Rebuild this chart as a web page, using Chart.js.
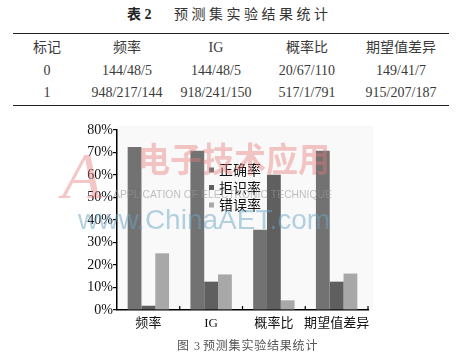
<!DOCTYPE html>
<html>
<head>
    <title>预测集实验结果统计</title>
    <script src="https://cdn.jsdelivr.net/npm/chart.js@4/dist/chart.umd.min.js"></script>
    <style>
        body {
            margin: 0;
            width: 457px;
            height: 358px;
            position: relative;
            background: #fff;
            font-family: "Liberation Serif", "Noto Sans CJK SC", serif;
            color: #333;
            overflow: hidden;
        }
        .t { position: absolute; white-space: pre; font-size: 14px; line-height: 20px; }
        .cell { position: absolute; width: 130px; text-align: center; font-size: 14px; line-height: 20px; color: #3a3a3a; }
        .rule { position: absolute; left: 13px; width: 436px; border-top: 1.5px solid #222; }
        #wrap { position: absolute; left: 0; top: 115px; width: 457px; height: 225px; }
    </style>
</head>
<body>
    <div class="t" style="left:127px;top:5px;font-weight:bold;color:#222;">表 2</div>
    <div class="t" style="left:174px;top:5px;letter-spacing:3.5px;color:#333;">预测集实验结果统计</div>
    <div class="rule" style="top:33px;"></div>
    <div id="table"></div>
    <div class="rule" style="top:105px;"></div>

    <div id="wrap"><canvas id="myChart"></canvas></div>

    <div class="t" style="left:177px;top:336px;font-size:12px;color:#555;letter-spacing:1px;">图 3</div>
    <div class="t" style="left:203px;top:336px;font-size:12px;letter-spacing:0.8px;color:#555;">预测集实验结果统计</div>

    <script>
        // table 2
        var tableHead = ['标记', '频率', 'IG', '概率比', '期望值差异'];
        var tableRow0 = ['0', '144/48/5', '144/48/5', '20/67/110', '149/41/7'];
        var tableRow1 = ['1', '948/217/144', '918/241/150', '517/1/791', '915/207/187'];

        // figure 3
        var categories = ['频率', 'IG', '概率比', '期望值差异'];
        var seriesNames = ['正确率', '拒识率', '错误率'];
        var correctRate = [72.5, 70.8, 35.7, 70.8];
        var rejectRate = [1.9, 12.6, 60.1, 12.6];
        var errorRate = [25.2, 15.8, 4.3, 16.2];
        var yTicks = [0, 10, 20, 30, 40, 50, 60, 70, 80];
        var barColors = ['#727272', '#5f5f5f', '#a8a8a8'];

        var colCenters = [47, 127, 216, 307, 401];
        var rowCenters = [48, 71, 93];
        var tbl = document.getElementById('table');
        [tableHead, tableRow0, tableRow1].forEach(function (row, r) {
            row.forEach(function (txt, c) {
                var d = document.createElement('div');
                d.className = 'cell';
                d.style.left = (colCenters[c] - 65) + 'px';
                d.style.top = (rowCenters[r] - 10) + 'px';
                d.textContent = txt;
                tbl.appendChild(d);
            });
        });

        var cjk = '"Noto Sans CJK SC", sans-serif';

        // faint plot box + watermark + custom legend + inner category ticks
        var decor = {
            id: 'decor',
            beforeDraw: function (chart) {
                var a = chart.chartArea, c = chart.ctx;
                c.save();
                c.fillStyle = 'rgba(0,0,0,0.025)';
                c.fillRect(a.left, a.top - 4, a.right - a.left + 5, a.bottom - a.top + 4);
                c.restore();
            },
            afterDraw: function (chart) {
                var a = chart.chartArea, c = chart.ctx;
                var xs = chart.scales.x;
                c.save();
                // category separators pointing up
                c.strokeStyle = '#000';
                c.lineWidth = 1.2;
                for (var i = 1; i <= categories.length; i++) {
                    var px = i < categories.length
                        ? (xs.getPixelForValue(i - 1) + xs.getPixelForValue(i)) / 2
                        : a.right;
                    c.beginPath();
                    c.moveTo(px, a.bottom);
                    c.lineTo(px, a.bottom - 4);
                    c.stroke();
                }

                // legend
                var lx = a.left + 92, ly = a.top + 40;
                c.font = '14px ' + cjk;
                c.textBaseline = 'middle';
                chart.data.datasets.forEach(function (ds, k) {
                    var y = ly + k * 17.5;
                    c.fillStyle = ds.backgroundColor;
                    c.fillRect(lx, y - 2.5, 5, 5);
                    c.fillStyle = '#111';
                    c.fillText(ds.label, lx + 10, y);
                });

                // watermark
                c.textBaseline = 'middle';
                c.textAlign = 'left';
                c.fillStyle = 'rgba(232,120,120,0.42)';
                c.font = 'italic 66px "Liberation Serif", serif';
                c.fillText('A', 62, 66, 60);
                c.font = 'bold 34px ' + cjk;
                c.fillText('电子技术应用', 138, 44, 192);
                c.fillStyle = 'rgba(150,150,150,0.6)';
                c.font = '11px "Liberation Sans", sans-serif';
                c.fillText('APPLICATION OF ELECTRONIC TECHNIQUE', 113, 80, 219);
                c.fillStyle = 'rgba(105,165,195,0.5)';
                c.font = '28px "Liberation Sans", sans-serif';
                c.fillText('www.ChinaAET.com', 78, 106, 259);
                c.restore();
            }
        };

        var ctx = document.getElementById('myChart').getContext('2d');
        var myChart = new Chart(ctx, {
            type: 'bar',
            data: {
                labels: categories,
                datasets: [
                    { label: seriesNames[0], data: correctRate, backgroundColor: barColors[0] },
                    { label: seriesNames[1], data: rejectRate, backgroundColor: barColors[1] },
                    { label: seriesNames[2], data: errorRate, backgroundColor: barColors[2] }
                ]
            },
            options: {
                responsive: true,
                maintainAspectRatio: false,
                animation: false,
                layout: { padding: { left: 60, right: 89, top: 15, bottom: 0 } },
                datasets: { bar: { categoryPercentage: 0.66, barPercentage: 1.0 } },
                plugins: { legend: { display: false }, tooltip: { enabled: false } },
                scales: {
                    x: {
                        grid: { display: false, drawTicks: false },
                        border: { color: '#000', width: 1.5 },
                        ticks: { color: '#111', padding: 6, maxRotation: 0, autoSkip: false,
                                 font: { family: '"Liberation Serif", "Noto Sans CJK SC", serif', size: 13 } },
                        afterFit: function (s) { s.height = 30; }
                    },
                    y: {
                        min: 0,
                        max: 80,
                        afterBuildTicks: function (s) {
                            s.ticks = yTicks.map(function (v) { return { value: v }; });
                        },
                        grid: { drawOnChartArea: false, tickLength: 4, color: '#000', lineWidth: 1.2 },
                        border: { color: '#000', width: 1.5 },
                        ticks: { color: '#111', padding: 0,
                                 font: { family: '"Liberation Serif", serif', size: 14 },
                                 callback: function (v) { return v + '%'; } },
                        afterFit: function (s) { s.width = 57; }
                    }
                }
            },
            plugins: [decor]
        });
    </script>
</body>
</html>
